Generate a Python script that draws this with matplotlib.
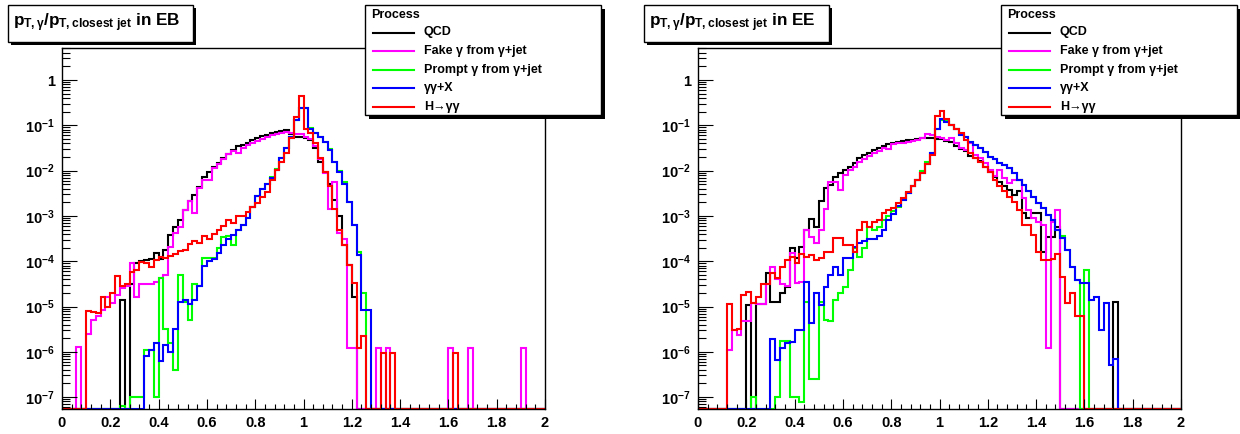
import numpy as np
import matplotlib
matplotlib.use('Agg')
import matplotlib.pyplot as plt
from matplotlib.patches import Rectangle
from matplotlib.lines import Line2D
from matplotlib.ticker import FixedLocator, LogLocator, NullFormatter

plt.rcParams['font.family'] = ['Liberation Sans', 'DejaVu Sans']
plt.rcParams['font.weight'] = 'bold'
plt.rcParams['mathtext.fontset'] = 'custom'
plt.rcParams['mathtext.rm'] = 'Liberation Sans:bold'
plt.rcParams['mathtext.it'] = 'Liberation Sans:bold'
plt.rcParams['mathtext.bf'] = 'Liberation Sans:bold'

# 100 bins of 0.02 between 0 and 2
edges = np.linspace(0, 2, 101)
Z = None  # empty bin

labels = ['QCD', 'Fake \u03b3 from \u03b3+jet', 'Prompt \u03b3 from \u03b3+jet',
          '\u03b3\u03b3+X', 'H\u2192\u03b3\u03b3']
colors = ['#000000', '#ff00ff', '#00ff00', '#0000ff', '#ff0000']

# log10 of the normalised bin contents
eb_qcd = [Z, Z, Z, Z, Z, Z, Z, Z, Z, Z,
          Z, Z, -4.85, Z, -4.5, -4.05, -4.0, -3.98, -3.95, -3.82,
          -3.95, -3.75, -3.42, -3.24, -3.09, -2.87, -2.68, -2.54, -2.37, -2.13,
          -2.04, -1.91, -1.84, -1.73, -1.63, -1.54, -1.46, -1.43, -1.38, -1.32,
          -1.29, -1.24, -1.21, -1.18, -1.15, -1.12, -1.10, -1.20, -1.25, -1.26,
          -1.28, -1.32, -1.50, -1.80, -2.02, -2.30, -2.65, -3.00, -3.64, -4.08,
          -4.78, Z, Z, Z, Z, Z, Z, Z, Z, Z,
          Z, Z, Z, Z, Z, Z, Z, Z, Z, Z,
          Z, Z, Z, Z, Z, Z, Z, Z, Z, Z,
          Z, Z, Z, Z, Z, Z, Z, Z, Z, Z]
eb_fake = [Z, Z, Z, -5.9, Z, -5.6, -5.29, -5.22, -5.07, -4.78,
           -4.93, -4.75, -4.6, -4.55, -4.03, -4.78, -4.5, -4.5, -4.5, -4.45,
           -4.38, -4.3, -3.68, -3.38, -3.24, -2.87, -2.68, -2.94, -2.39, -2.2,
           -2.2, -1.95, -1.86, -1.75, -1.64, -1.56, -1.6, -1.5, -1.44, -1.38,
           -1.34, -1.3, -1.25, -1.22, -1.2, -1.18, -1.15, -1.18, -1.2, -1.2,
           -1.25, -1.3, -1.45, -1.75, -2.05, -2.85, -2.24, -3.38, -3.5, -5.92,
           -5.92, Z, Z, Z, Z, -5.92, Z, -5.92, Z, Z,
           Z, Z, Z, Z, Z, Z, Z, Z, Z, Z,
           -5.92, Z, Z, Z, -5.92, Z, Z, Z, Z, Z,
           Z, Z, Z, Z, Z, -5.92, Z, Z, Z, Z]
eb_prompt = [Z, Z, Z, Z, Z, Z, Z, Z, Z, Z,
             Z, Z, -7.2, Z, -7.0, -7.0, -7.0, -5.96, -5.96, -6.99,
             -4.37, -5.5, -5.8, -6.4, -4.3, -4.9, -5.3, -4.5, -4.55, -3.93,
             -3.93, -3.93, -3.7, -3.46, -3.44, -3.64, -3.32, -3.2, -3.05, -2.8,
             -2.55, -2.4, -2.3, -2.15, -1.97, -1.72, -1.5, -1.25, -0.88, -0.61,
             -0.61, -1.05, -1.18, -1.25, -1.36, -1.52, -1.8, -2.0, -2.25, -2.69,
             -3.2, -3.8, -4.71, Z, Z, Z, Z, Z, Z, Z,
             Z, Z, Z, Z, Z, Z, Z, Z, Z, Z,
             Z, Z, Z, Z, Z, Z, Z, Z, Z, Z,
             Z, Z, Z, Z, Z, Z, Z, Z, Z, Z]
eb_diphoton = [Z, Z, Z, Z, Z, Z, Z, Z, Z, Z,
               Z, Z, Z, Z, Z, Z, Z, -6.1, -5.96, -5.8,
               -6.2, -5.85, -6.0, -5.5, -4.9, -4.85, -4.95, -4.85, -4.55, -4.1,
               -4.0, -3.95, -3.82, -3.65, -3.5, -3.42, -3.32, -3.2, -3.05, -2.8,
               -2.55, -2.4, -2.3, -2.17, -1.99, -1.73, -1.51, -1.25, -0.88, -0.61,
               -0.61, -1.07, -1.18, -1.25, -1.36, -1.55, -1.8, -2.02, -2.3, -2.69,
               -3.2, -3.86, -5.08, -5.08, Z, Z, Z, Z, Z, Z,
               Z, Z, Z, Z, Z, Z, Z, Z, Z, Z,
               Z, Z, Z, Z, Z, Z, Z, Z, Z, Z,
               Z, Z, Z, Z, Z, Z, Z, Z, Z, Z]
eb_higgs = [Z, Z, Z, Z, Z, -5.1, -5.12, -5.15, -4.8, -5.0,
            -4.7, -4.32, -4.55, -4.5, -4.23, -4.2, -4.02, -4.05, -4.12, -3.98,
            -3.9, -3.93, -3.88, -3.85, -3.78, -3.75, -3.62, -3.55, -3.6, -3.45,
            -3.5, -3.4, -3.3, -3.22, -3.1, -3.15, -3.0, -3.0, -2.91, -2.8,
            -2.72, -2.58, -2.47, -2.21, -1.99, -1.8, -1.6, -1.27, -0.82, -0.35,
            -1.09, -1.16, -1.4, -1.73, -2.02, -2.35, -2.85, -3.3, -3.64, -4.08,
            -4.49, -5.92, -5.66, Z, Z, Z, -6.03, Z, -6.03, Z,
            Z, Z, Z, Z, Z, Z, Z, Z, Z, Z,
            Z, -6.03, Z, Z, Z, Z, Z, Z, Z, Z,
            Z, Z, Z, Z, Z, Z, Z, Z, Z, Z]

ee_qcd = [Z, Z, Z, Z, Z, Z, Z, Z, Z, Z,
          -4.97, Z, -4.95, -4.95, -4.26, -4.89, -4.89, -4.71, -4.56, -3.71,
          -3.93, -3.68, -3.31, -3.07, -3.24, -2.68, -2.39, -2.32, -2.13, -2.06,
          -1.99, -1.91, -1.84, -1.73, -1.65, -1.60, -1.54, -1.51, -1.46, -1.41,
          -1.38, -1.36, -1.34, -1.32, -1.32, -1.30, -1.29, -1.28, -1.28, -1.30,
          -1.30, -1.34, -1.36, -1.45, -1.53, -1.56, -1.68, -1.72, -1.78, -1.92,
          -2.02, -2.13, -2.24, -2.34, -2.43, -2.54, -2.46, -2.94, -3.05, -2.94,
          -2.93, -3.79, -3.46, -3.46, -3.24, Z, Z, Z, Z, Z,
          Z, Z, Z, Z, Z, Z, -4.89, Z, Z, Z,
          Z, Z, Z, Z, Z, Z, Z, Z, Z, Z]
ee_fake = [Z, Z, Z, Z, Z, Z, -5.96, -5.51, -5.62, -5.33,
           -5.33, -4.93, -4.95, -4.95, -4.5, -4.12, -4.4, -4.5, -4.55, -3.82,
           -4.49, -4.45, -3.31, -3.46, -3.6, -3.3, -2.85, -2.24, -2.24, -2.43,
           -2.1, -1.99, -1.92, -1.82, -1.75, -1.67, -1.61, -1.56, -1.5, -1.52,
           -1.42, -1.40, -1.38, -1.36, -1.35, -1.32, -1.28, -1.2, -1.22, -1.25,
           -1.29, -1.32, -1.27, -1.38, -1.51, -1.54, -1.40, -1.66, -1.73, -1.84,
           -1.99, -2.12, -1.99, -2.17, -2.28, -2.21, -2.21, -2.6, -2.87, -3.05,
           -3.13, -3.2, -5.92, -3.13, -2.87, Z, Z, Z, Z, Z,
           Z, Z, Z, Z, Z, Z, Z, Z, Z, Z,
           Z, Z, Z, Z, Z, Z, Z, Z, Z, Z]
ee_prompt = [Z, Z, Z, Z, Z, Z, Z, Z, Z, Z,
             Z, -6.99, Z, Z, Z, Z, -7.0, -5.77, -5.77, -6.99,
             -6.99, -7.1, -4.89, -6.6, -6.6, -4.89, -5.3, -5.33, -4.85, -4.7,
             -4.56, -4.2, -3.7, -3.9, -3.7, -3.25, -3.3, -3.25, -3.1, -3.0,
             -2.9, -2.8, -2.65, -2.5, -2.35, -2.2, -2.0, -1.8, -1.6, -1.07,
             -0.88, -0.9, -1.0, -1.09, -1.2, -1.26, -1.36, -1.43, -1.5, -1.58,
             -1.69, -1.75, -1.84, -1.88, -1.95, -2.06, -2.21, -2.32, -2.46, -2.58,
             -2.72, -2.83, -2.98, -3.09, -3.31, -3.45, -3.75, -4.12, -4.41, Z,
             -4.2, Z, Z, Z, Z, Z, Z, Z, Z, Z,
             Z, Z, Z, Z, Z, Z, Z, Z, Z, Z]
ee_diphoton = [Z, Z, Z, Z, Z, Z, Z, Z, Z, Z,
               Z, Z, Z, Z, Z, -5.72, -6.18, -5.92, -5.8, -5.79,
               -5.51, -5.51, -4.45, -5.37, -4.7, -4.96, -4.56, -4.3, -4.12, -4.3,
               -3.93, -3.93, -3.68, -3.6, -3.55, -3.5, -3.52, -3.45, -3.3, -3.1,
               -2.95, -2.78, -2.65, -2.5, -2.35, -2.2, -2.05, -1.85, -1.6, -1.07,
               -0.86, -0.92, -1.0, -1.09, -1.21, -1.26, -1.36, -1.43, -1.51, -1.58,
               -1.69, -1.75, -1.84, -1.88, -1.95, -2.06, -2.21, -2.32, -2.46, -2.58,
               -2.72, -2.83, -2.98, -3.09, -3.31, -3.49, -3.75, -4.12, -4.41, -4.49,
               -4.49, -4.86, -4.80, -5.52, -4.93, -6.29, -6.15, Z, Z, Z,
               Z, Z, Z, Z, Z, Z, Z, Z, Z, Z]
ee_higgs = [Z, Z, Z, Z, Z, Z, -4.94, -5.51, -5.5, -4.74,
            -4.67, -4.93, -4.8, -4.5, -4.5, -4.26, -4.38, -4.12, -3.97, -3.9,
            -4.04, -3.84, -3.9, -3.87, -3.97, -3.93, -3.79, -3.79, -3.49, -3.49,
            -3.64, -3.64, -3.79, -3.31, -3.13, -3.24, -3.13, -3.09, -2.94, -2.87,
            -2.83, -2.72, -2.6, -2.48, -2.35, -2.2, -2.05, -1.85, -1.65, -0.79,
            -0.68, -0.87, -1.0, -1.09, -1.18, -1.32, -1.60, -1.72, -1.80, -1.92,
            -2.02, -2.21, -2.35, -2.46, -2.58, -2.69, -2.87, -3.20, -3.20, -3.42,
            -3.79, -3.97, -3.97, -3.94, -3.83, -4.34, -4.93, -4.71, -5.22, -5.22,
            Z, Z, Z, Z, Z, Z, Z, Z, Z, Z,
            Z, Z, Z, Z, Z, Z, Z, Z, Z, Z]

eb_hists = [eb_qcd, eb_fake, eb_prompt, eb_diphoton, eb_higgs]
ee_hists = [ee_qcd, ee_fake, ee_prompt, ee_diphoton, ee_higgs]

ylo, yhi = 5.46e-8, 5.1
ytick_vals = [1e-7, 1e-6, 1e-5, 1e-4, 1e-3, 1e-2, 1e-1, 1]
ytick_text = ['$10^{-7}$', '$10^{-6}$', '$10^{-5}$', '$10^{-4}$', '$10^{-3}$',
              '$10^{-2}$', '$10^{-1}$', '1']
xtick_vals = [0, 0.2, 0.4, 0.6, 0.8, 1.0, 1.2, 1.4, 1.6, 1.8, 2.0]
xtick_text = ['0', '0.2', '0.4', '0.6', '0.8', '1', '1.2', '1.4', '1.6', '1.8', '2']

W, H = 1240, 434
fig = plt.figure(figsize=(W / 100, H / 100), dpi=100)


def fx(x):
    return x / W


def fy(y):
    return 1 - y / H


def box(x0, y0, x1, y1, shadow=3):
    # ROOT style box with black drop shadow, pixel coords from the top left
    fig.add_artist(Rectangle((fx(x0 + shadow), fy(y1 + shadow)), fx(x1 - x0), (y1 - y0) / H,
                             transform=fig.transFigure, facecolor='black', edgecolor='none'))
    fig.add_artist(Rectangle((fx(x0), fy(y1)), fx(x1 - x0), (y1 - y0) / H,
                             transform=fig.transFigure, facecolor='white', edgecolor='black', lw=1))


def to_vals(logs):
    return np.array([ylo if v is None else 10.0 ** v for v in logs])


for region, off, hists in [('EB', 0, eb_hists), ('EE', 636, ee_hists)]:
    ax = fig.add_axes([fx(62 + off), fy(409), fx(483), 361 / H])
    for logs, c in zip(hists, colors):
        ax.stairs(to_vals(logs), edges, color=c, lw=1.5, baseline=None)

    ax.set_yscale('log')
    ax.set_xlim(0, 2)
    ax.set_ylim(ylo, yhi)
    ax.xaxis.set_major_locator(FixedLocator(xtick_vals))
    ax.xaxis.set_minor_locator(FixedLocator(np.arange(0, 2.001, 0.04)))
    ax.set_xticklabels(xtick_text)
    ax.yaxis.set_major_locator(FixedLocator(ytick_vals))
    ax.set_yticklabels(ytick_text)
    ax.yaxis.set_minor_locator(LogLocator(base=10, subs=np.arange(2, 10) * 1.0, numticks=30))
    ax.yaxis.set_minor_formatter(NullFormatter())
    ax.tick_params(axis='both', which='both', direction='in', top=False, right=False,
                   labelsize=10.5, pad=5, width=0.8)
    ax.tick_params(axis='x', which='major', length=7)
    ax.tick_params(axis='x', which='minor', length=3.5)
    ax.tick_params(axis='y', which='major', length=11)
    ax.tick_params(axis='y', which='minor', length=5.5)
    for s in ax.spines.values():
        s.set_linewidth(1)

    # title box
    box(8 + off, 5, 193 + off, 42)
    fig.text(fx(13 + off), fy(23),
             r'$p_{T,\gamma}/p_{T,closest\ jet}$ in ' + region,
             fontsize=12.3, fontweight='bold', va='center', ha='left')

    # legend box
    box(365 + off, 5, 601 + off, 115, shadow=4)
    fig.text(fx(371 + off), fy(15), 'Process', fontsize=9, fontweight='bold',
             va='center', ha='left')
    for k, (lab, c) in enumerate(zip(labels, colors)):
        yrow = 32.5 + 18.6 * k
        fig.add_artist(Line2D([fx(373 + off), fx(414 + off)], [fy(yrow), fy(yrow)],
                              transform=fig.transFigure, color=c, lw=1.5))
        fig.text(fx(424 + off), fy(yrow), lab, fontsize=9, fontweight='bold',
                 va='center', ha='left')

fig.savefig('out.png', dpi=100)
